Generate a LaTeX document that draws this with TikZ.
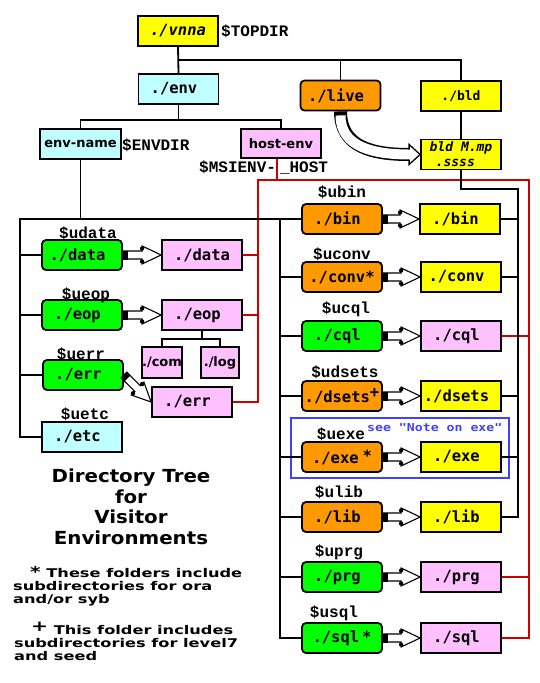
\documentclass[tikz,border=0pt]{standalone}
\usepackage{fontspec}
\setmainfont{DejaVu Sans}
\newfontfamily\boxfont{DejaVu Sans Mono}
\newfontfamily\lblfont{Liberation Mono}
\newfontfamily\titlefont{DejaVu Sans}[FakeStretch=1.1]
\newfontfamily\footfont{DejaVu Sans}[FakeStretch=1.35]
\newfontfamily\notefont{DejaVu Sans Mono}[FakeStretch=1.2]
\usetikzlibrary{calc}
\definecolor{cyanbox}{RGB}{192,255,255}
\definecolor{pinkbox}{RGB}{255,192,255}
\definecolor{greenbox}{RGB}{0,255,0}
\definecolor{orangebox}{RGB}{255,153,0}
\definecolor{yellowbox}{RGB}{255,255,0}
\definecolor{redline}{RGB}{204,0,0}
\definecolor{blueline}{RGB}{64,64,255}
\tikzset{
  box/.style={draw, line width=1.8pt, minimum width=80pt, minimum height=30pt, inner sep=0pt,
    font=\boxfont\bfseries\fontsize{15.5}{16}\selectfont},
  L/.style={execute at end node={\hspace*{9pt}}},
  ybox/.style={box, fill=yellowbox},
  pbox/.style={box, fill=pinkbox},
  cbox/.style={box, fill=cyanbox},
  gbox/.style={box, rounded corners=4pt, fill=greenbox},
  obox/.style={box, rounded corners=4pt, fill=orangebox},
  lbl/.style={font=\lblfont\bfseries\fontsize{16}{16}\selectfont, inner sep=0pt},
  conn/.style={line width=1.8pt},
  rconn/.style={line width=1.8pt, draw=redline},
  pipe/.style={fill=white, draw=black, line width=1.1pt},
}
\newcommand\pipearrow[2]{%
  \coordinate (pA) at (#1);
  \coordinate (pB) at (#2);
  \coordinate (pH) at ($(pB)!19pt!(pA)$);
  \coordinate (pS) at ($(pA)!5pt!(pB)$);
  \filldraw[pipe] ($(pA)!4pt!90:(pB)$) -- ($(pH)!4pt!-90:(pA)$) -- ($(pH)!9pt!-90:(pA)$) -- (pB)
     -- ($(pH)!9pt!90:(pA)$) -- ($(pH)!4pt!90:(pA)$) -- ($(pA)!4pt!-90:(pB)$) -- cycle;
  \fill ($(pA)!4.5pt!90:(pB)$) -- ($(pS)!4.5pt!-90:(pA)$) -- ($(pS)!4.5pt!90:(pA)$) -- ($(pA)!4.5pt!-90:(pB)$) -- cycle;
  \fill ($(pH)!6.5pt!-90:(pA)$) circle (2.2pt);
  \fill ($(pH)!6.5pt!90:(pA)$) circle (2.2pt);
}
\begin{document}
\begin{tikzpicture}[x=1pt,y=-1pt]
\fill[white] (0,0) rectangle (539,683);
\useasboundingbox (0,0) rectangle (539,683);

% ---- top
\node[ybox, font=\boxfont\bfseries\itshape\fontsize{15.5}{16}\selectfont] (vnna) at (178,31) {./vnna};
\node[lbl, anchor=west] (topdir) at (221,31) {\$TOPDIR};
\node[cbox, L] (env) at (178.5,89) {./env};
\node[obox, L] (live) at (340.5,95.5) {./live};
\node[ybox, font=\boxfont\bfseries\fontsize{13}{13}\selectfont] (bld) at (461,96) {./bld};
\node[ybox, align=left, font=\boxfont\bfseries\itshape\fontsize{13}{15}\selectfont] (bldmp) at (461,154.5) {bld M.mp\\\hspace*{6pt}.ssss};

\node[cbox, minimum width=81pt, font=\bfseries\fontsize{13}{13}\selectfont] (envname) at (80.5,144) {env-name};
\node[lbl, anchor=west] (envdir) at (122,145) {\$ENVDIR};
\node[pbox, minimum height=29pt, font=\bfseries\fontsize{13}{13}\selectfont] (hostenv) at (281,143.5) {host-env};
\node[lbl, anchor=west] (msienv) at (199,167) {\$MSIENV-\hspace{4pt}\_HOST};

% ---- left column
\node[gbox, L] (data) at (82,255) {./data};
\node[gbox, L] (eop) at (82,315) {./eop};
\node[gbox, L] (err) at (83,375) {./err};
\node[cbox, L] (etc) at (82,437) {./etc};
\node[pbox] (pdata) at (202,255) {./data};
\node[pbox, L] (peop) at (202,315) {./eop};
\node[pbox, minimum width=38pt, minimum height=31pt, font=\bfseries\fontsize{13}{13}\selectfont] (com) at (162,362.5) {./com};
\node[pbox, minimum width=38pt, minimum height=31pt, font=\bfseries\fontsize{13}{13}\selectfont] (log) at (220,362.5) {./log};
\node[pbox, L] (perr) at (192,402) {./err};
\node[lbl] (ldata) at (88,233) {\$udata};
\node[lbl] (leop) at (86,295) {\$ueop};
\node[lbl] (lerr) at (81,354) {\$uerr};
\node[lbl] (letc) at (85,414) {\$uetc};

% ---- right column
\node[draw=blueline, line width=1.8pt, minimum width=218pt, minimum height=60pt] (notebox) at (400,448) {};
\node[anchor=west, inner sep=0pt, text=blueline, font=\notefont\bfseries\fontsize{11}{11}\selectfont] (note) at (367,428) {see "Note on exe"};

\node[obox, L] (bin) at (342,219) {./bin};
\node[obox] (conv) at (342,277) {./conv\textbf{*}};
\node[gbox, L] (cql) at (342,336) {./cql};
\node[obox] (dsets) at (342,396) {./dsets\raisebox{5pt}{\textbf{+}}};
\node[obox] (exe) at (342,457) {./exe\kern4pt\raisebox{2pt}{\textbf{*}}};
\node[obox, L] (lib) at (342,517) {./lib};
\node[gbox, L] (prg) at (342,577) {./prg};
\node[gbox] (sql) at (342,638) {./sql\kern3pt\textbf{*}};

\node[ybox, L] (ybin) at (460,219) {./bin};
\node[ybox, L] (yconv) at (461,277) {./conv};
\node[pbox, L] (pcql) at (461,336) {./cql};
\node[ybox, L] (ydsets) at (461,396) {./dsets};
\node[ybox, L] (yexe) at (461,457) {./exe};
\node[ybox, L] (ylib) at (461,517) {./lib};
\node[pbox, L] (pprg) at (461,577) {./prg};
\node[pbox, L] (psql) at (461,638) {./sql};

\node[lbl] (lbin) at (342,192) {\$ubin};
\node[lbl] (lconv) at (342,254) {\$uconv};
\node[lbl] (lcql) at (346,309) {\$ucql};
\node[lbl] (ldsets) at (345,372) {\$udsets};
\node[lbl] (lexe) at (341,434) {\$uexe};
\node[lbl] (llib) at (339,492) {\$ulib};
\node[lbl] (lprg) at (339,552) {\$uprg};
\node[lbl] (lsql) at (334,613) {\$usql};

% ---- title & notes
\node[align=center, font=\titlefont\bfseries\fontsize{18}{20.5}\selectfont] (title) at (131,507)
  {Directory Tree\\for\\Visitor\\Environments};
\node[anchor=north west, align=left, inner sep=0pt, font=\footfont\bfseries\fontsize{12}{13}\selectfont] (note1) at (13,566)
  {\hspace*{17pt}{\fontsize{15}{13}\selectfont *} These folders include\\subdirectories for ora\\and/or syb};
\node[anchor=north west, align=left, inner sep=0pt, font=\footfont\bfseries\fontsize{12}{13}\selectfont] (note2) at (14,622)
  {\hspace*{17pt}\raisebox{3pt}{\fontsize{15}{13}\selectfont +} This folder includes\\subdirectories for level7\\and seed};

% ---- coordinates
\coordinate (j0) at (178,60);
\coordinate (j1) at (178.5,120);
\coordinate (tl) at (20,219);
\coordinate (tr) at (280,219);
\coordinate (rb) at (518,189);
\coordinate (rl) at (258,180);
\coordinate (rr) at (529,180);
\coordinate (je) at (202,339);
\coordinate (hs) at ($(hostenv.south)+(-4,0)$);

% ---- red connectors
\draw[rconn] (hs) -- (hs |- rl);
\draw[rconn] (perr.east) -| (rl) -- (rr) |- (psql.east);
\foreach \n in {pdata,peop} \draw[rconn] (\n.east) -- (rl |- \n.east);
\foreach \n in {pcql,pprg} \draw[rconn] (\n.east) -- (rr |- \n.east);

% ---- black connectors
\draw[conn] (vnna.south) -- (env.north);
\draw[conn] (j0) -| (bld.north);
\draw[conn] (live.north) -- (live.north |- j0);
\draw[conn] (bld.south) -- (bldmp.north);
\draw[conn] (env.south) -- (j1);
\draw[conn] (envname.north) |- (j1) -| (hostenv.north);
\draw[conn] (envname.south) -- (envname.south |- tl);
\draw[conn] (bin.west) -- (tl) |- (etc.west);
\foreach \n in {data,eop,err} \draw[conn] (tl |- \n.west) -- (\n.west);
\draw[conn] (tr) |- (sql.west);
\foreach \n in {conv,cql,dsets,exe,lib,prg} \draw[conn] (tr |- \n.west) -- (\n.west);
\draw[conn] (bldmp.south) |- (rb) |- (ylib.east);
\foreach \n in {ybin,yconv,ydsets,yexe} \draw[conn] (\n.east) -- (rb |- \n.east);
\draw[conn] (peop.south) -- (je);
\draw[conn] (com.north) |- (je) -| (log.north);

% ---- pipe arrows
\pipearrow{data.east}{pdata.west}
\pipearrow{eop.east}{peop.west}
\pipearrow{err.east}{perr.west}
\pipearrow{bin.east}{ybin.west}
\pipearrow{conv.east}{yconv.west}
\pipearrow{cql.east}{pcql.west}
\pipearrow{dsets.east}{ydsets.west}
\pipearrow{exe.east}{yexe.west}
\pipearrow{lib.east}{ylib.west}
\pipearrow{prg.east}{pprg.west}
\pipearrow{sql.east}{psql.west}

% ---- curved arrow live -> bld M.mp
\coordinate (ct) at ($(bldmp.west)+(-11,0)$);
\draw[line width=13pt] (live.south) .. controls +(0,36) and +(-36,0) .. (ct);
\draw[line width=10pt, white] ($(live.south)+(0,4)$) .. controls +(0,32) and +(-36,0) .. ($(ct)+(1,0)$);
\filldraw[fill=white, draw=black, line width=1.3pt] ($(ct)+(0,-5)$) -- ($(ct)+(0,-10)$) -- (bldmp.west) -- ($(ct)+(0,10)$) -- ($(ct)+(0,5)$);
\end{tikzpicture}
\end{document}
